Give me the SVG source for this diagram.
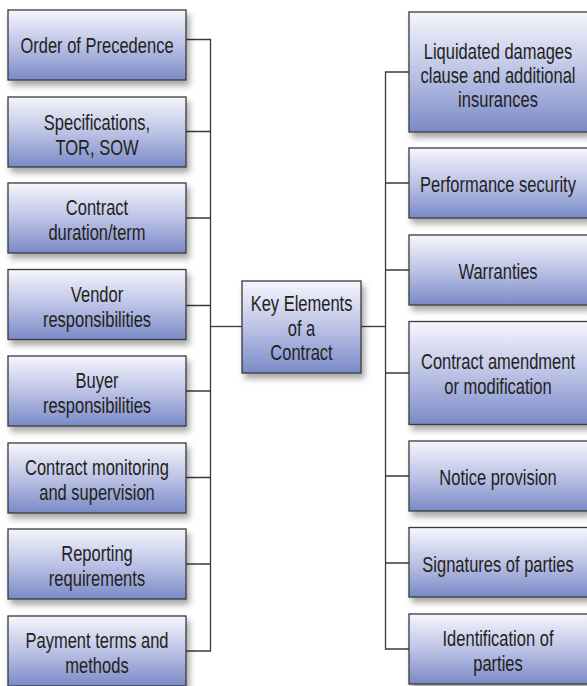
<svg xmlns="http://www.w3.org/2000/svg" width="587" height="686" viewBox="0 0 587 686">
  <defs>
    <linearGradient id="boxFill" x1="0" y1="0" x2="0" y2="1">
      <stop offset="0" stop-color="#f6f6fd"/>
      <stop offset="0.5" stop-color="#bcc3e5"/>
      <stop offset="1" stop-color="#7a8ac7"/>
    </linearGradient>
    <filter id="shadow" x="-10%" y="-10%" width="130%" height="140%">
      <feDropShadow dx="3" dy="5" stdDeviation="3" flood-color="#000" flood-opacity="0.35"/>
    </filter>
  </defs>
  <style>
    .box { fill: url(#boxFill); stroke: #3a3a3a; stroke-width: 1.3; filter: url(#shadow); }
    .lbl { font-family: "Liberation Sans", Arial, sans-serif; font-size: 22px; fill: #231f20; text-anchor: middle; }
    .wire { fill: none; stroke: #3a3a3a; stroke-width: 1.3; }
  </style>
  <rect width="587" height="686" fill="#ffffff"/>

  <!-- connectors -->
  <g id="connectors">
    <path class="wire" d="M186 39.5 H210.5 V651 H186"/>
    <path class="wire" d="M186 131.5 H210.5 M186 218 H210.5 M186 305.5 H210.5 M186 391 H210.5 M186 477.5 H210.5 M186 564 H210.5"/>
    <path class="wire" d="M210.5 326.5 H242"/>
    <path class="wire" d="M361 326.5 H385.5"/>
    <path class="wire" d="M409 72 H385.5 V649 H409"/>
    <path class="wire" d="M385.5 183 H409 M385.5 270 H409 M385.5 373 H409 M385.5 476 H409 M385.5 563 H409"/>
  </g>

  <!-- left column: labels are condensed horizontally around the box centre -->
  <g id="order-of-precedence">
    <rect class="box" x="8" y="10" width="178" height="70"/>
    <g transform="translate(97 0) scale(0.75 1)">
      <text class="lbl" x="0" y="53">Order of Precedence</text>
    </g>
  </g>
  <g id="specifications">
    <rect class="box" x="8" y="97" width="178" height="70"/>
    <g transform="translate(97 0) scale(0.75 1)">
      <text class="lbl" x="0" y="130">Specifications,</text>
      <text class="lbl" x="0" y="155.5">TOR, SOW</text>
    </g>
  </g>
  <g id="contract-duration">
    <rect class="box" x="8" y="183" width="178" height="70"/>
    <g transform="translate(97 0) scale(0.75 1)">
      <text class="lbl" x="0" y="215">Contract</text>
      <text class="lbl" x="0" y="240">duration/term</text>
    </g>
  </g>
  <g id="vendor-responsibilities">
    <rect class="box" x="8" y="269.5" width="178" height="70"/>
    <g transform="translate(97 0) scale(0.75 1)">
      <text class="lbl" x="0" y="302">Vendor</text>
      <text class="lbl" x="0" y="327">responsibilities</text>
    </g>
  </g>
  <g id="buyer-responsibilities">
    <rect class="box" x="8" y="356" width="178" height="70"/>
    <g transform="translate(97 0) scale(0.75 1)">
      <text class="lbl" x="0" y="388">Buyer</text>
      <text class="lbl" x="0" y="413">responsibilities</text>
    </g>
  </g>
  <g id="contract-monitoring">
    <rect class="box" x="8" y="443" width="178" height="70"/>
    <g transform="translate(97 0) scale(0.75 1)">
      <text class="lbl" x="0" y="475">Contract monitoring</text>
      <text class="lbl" x="0" y="500">and supervision</text>
    </g>
  </g>
  <g id="reporting-requirements">
    <rect class="box" x="8" y="529" width="178" height="70"/>
    <g transform="translate(97 0) scale(0.75 1)">
      <text class="lbl" x="0" y="561">Reporting</text>
      <text class="lbl" x="0" y="586">requirements</text>
    </g>
  </g>
  <g id="payment-terms">
    <rect class="box" x="8" y="616" width="178" height="70"/>
    <g transform="translate(97 0) scale(0.75 1)">
      <text class="lbl" x="0" y="648">Payment terms and</text>
      <text class="lbl" x="0" y="673">methods</text>
    </g>
  </g>

  <!-- centre -->
  <g id="key-elements">
    <rect class="box" x="242" y="281" width="119" height="92"/>
    <g transform="translate(301.5 0) scale(0.75 1)">
      <text class="lbl" x="0" y="311">Key Elements</text>
      <text class="lbl" x="0" y="336">of a</text>
      <text class="lbl" x="0" y="360">Contract</text>
    </g>
  </g>

  <!-- right column -->
  <g id="liquidated-damages">
    <rect class="box" x="409" y="12" width="180" height="120"/>
    <g transform="translate(498 0) scale(0.75 1)">
      <text class="lbl" x="0" y="59">Liquidated damages</text>
      <text class="lbl" x="0" y="83.5">clause and additional</text>
      <text class="lbl" x="0" y="107">insurances</text>
    </g>
  </g>
  <g id="performance-security">
    <rect class="box" x="409" y="148" width="180" height="70"/>
    <g transform="translate(498 0) scale(0.75 1)">
      <text class="lbl" x="0" y="192">Performance security</text>
    </g>
  </g>
  <g id="warranties">
    <rect class="box" x="409" y="235" width="180" height="70"/>
    <g transform="translate(498 0) scale(0.75 1)">
      <text class="lbl" x="0" y="279">Warranties</text>
    </g>
  </g>
  <g id="contract-amendment">
    <rect class="box" x="409" y="321.5" width="180" height="103"/>
    <g transform="translate(498 0) scale(0.75 1)">
      <text class="lbl" x="0" y="369">Contract amendment</text>
      <text class="lbl" x="0" y="394">or modification</text>
    </g>
  </g>
  <g id="notice-provision">
    <rect class="box" x="409" y="441" width="180" height="70"/>
    <g transform="translate(498 0) scale(0.75 1)">
      <text class="lbl" x="0" y="485">Notice provision</text>
    </g>
  </g>
  <g id="signatures">
    <rect class="box" x="409" y="527.5" width="180" height="69.5"/>
    <g transform="translate(498 0) scale(0.75 1)">
      <text class="lbl" x="0" y="572">Signatures of parties</text>
    </g>
  </g>
  <g id="identification">
    <rect class="box" x="409" y="614" width="180" height="70"/>
    <g transform="translate(498 0) scale(0.75 1)">
      <text class="lbl" x="0" y="646">Identification of</text>
      <text class="lbl" x="0" y="671">parties</text>
    </g>
  </g>
</svg>
